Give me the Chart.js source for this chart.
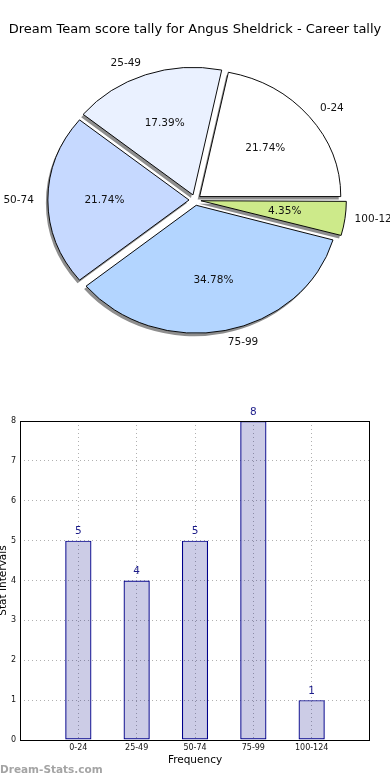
<!DOCTYPE html>
<html lang="en">
<head>
    <meta charset="UTF-8">
    <title>Dream Team score tally - Angus Sheldrick</title>
    <script src="https://cdn.jsdelivr.net/npm/chart.js"></script>
    <style>
        body { margin: 0; background: white; font-family: "DejaVu Sans", sans-serif; }
        #wrap { position: relative; width: 390px; height: 780px; overflow: hidden; }
        #pieBox { position: absolute; left: 0; top: 0; width: 390px; height: 390px; }
        #barBox { position: absolute; left: 0; top: 390px; width: 390px; height: 390px; }
        #mark { position: absolute; left: 0; top: 763px; font-size: 10.5px; font-weight: bold; color: #a4a4a4; }
    </style>
</head>
<body>
<div id="wrap">
    <div id="pieBox"><canvas id="pieChart" width="390" height="390"></canvas></div>
    <div id="barBox"><canvas id="barChart" width="390" height="390"></canvas></div>
    <div id="mark">Dream-Stats.com</div>
</div>
<script>
    const titleText = 'Dream Team score tally for Angus Sheldrick - Career tally';
    const categories = ['0-24', '25-49', '50-74', '75-99', '100-124'];
    const counts = [5, 4, 5, 8, 1];
    const pieColors = ['#ffffff', '#eaf1ff', '#c6d9ff', '#b3d5ff', '#cdea8a'];
    const yTicks = [0, 1, 2, 3, 4, 5, 6, 7, 8];

    const total = counts.reduce((s, v) => s + v, 0);
    const SQUASH = 0.9;   // pie is a little wider than tall
    const font = '"DejaVu Sans", sans-serif';

    // matplotlib draws slices counter-clockwise from 3 o'clock, chart.js goes clockwise
    const pieOrder = categories.map((c, i) => i).reverse();

    function squash(ctx, a) {
        ctx.translate(a.x, a.y);
        ctx.scale(1, SQUASH);
        ctx.translate(-a.x, -a.y);
    }

    const pieLook = {
        id: 'pieLook',
        beforeDatasetsDraw(chart) {
            const ctx = chart.ctx;
            const arcs = chart.getDatasetMeta(0).data;
            // shadow pass: same arcs, grey, shifted down-left
            ctx.save();
            ctx.translate(-2, 3);
            squash(ctx, arcs[0]);
            arcs.forEach(arc => {
                const real = arc.options;
                arc.options = Object.create(real, {
                    backgroundColor: { value: '#8e8e8e' },
                    borderWidth: { value: 0 }
                });
                arc.draw(ctx);
                arc.options = real;
            });
            ctx.restore();
            ctx.save();
            squash(ctx, arcs[0]);
        },
        afterDatasetsDraw(chart) {
            const ctx = chart.ctx;
            ctx.restore();
            ctx.save();
            ctx.font = '10.5px ' + font;
            ctx.fillStyle = '#111';
            ctx.textBaseline = 'middle';
            chart.getDatasetMeta(0).data.forEach((arc, k) => {
                const i = pieOrder[k];
                const mid = (arc.startAngle + arc.endAngle) / 2;
                const off = (arc.options.offset || 0) / 4;
                const R = arc.outerRadius;
                const pt = r => ({
                    x: arc.x + Math.cos(mid) * (r + off),
                    y: arc.y + Math.sin(mid) * (r + off) * SQUASH
                });
                const o = pt(R * 1.1);
                ctx.textAlign = Math.cos(mid) > 0 ? 'left' : 'right';
                ctx.fillText(categories[i], o.x, o.y);
                const p = pt(R * 0.6);
                ctx.textAlign = 'center';
                ctx.fillText((counts[i] / total * 100).toFixed(2) + '%', p.x, p.y);
            });
            ctx.font = '13px ' + font;
            ctx.fillStyle = '#000';
            ctx.textAlign = 'center';
            ctx.fillText(titleText, 195, 30);
            ctx.restore();
        }
    };

    new Chart(document.getElementById('pieChart'), {
        type: 'pie',
        data: {
            labels: pieOrder.map(i => categories[i]),
            datasets: [{
                data: pieOrder.map(i => counts[i]),
                backgroundColor: pieOrder.map(i => pieColors[i]),
                borderColor: '#000',
                borderWidth: 1,
                offset: 24,
                radius: 141,
                clip: false
            }]
        },
        options: {
            responsive: false,
            animation: false,
            rotation: 90,
            layout: { padding: { top: 10 } },
            plugins: { legend: { display: false }, tooltip: { enabled: false } }
        },
        plugins: [pieLook]
    });

    const barLook = {
        id: 'barLook',
        afterDatasetsDraw(chart) {
            const ctx = chart.ctx;
            ctx.save();
            ctx.font = '10.5px ' + font;
            ctx.fillStyle = '#1c1c8a';
            ctx.textAlign = 'center';
            ctx.textBaseline = 'middle';
            chart.getDatasetMeta(0).data.forEach((bar, i) => {
                ctx.fillText(String(counts[i]), bar.x, bar.y - 9);
            });
            ctx.restore();
        },
        afterDraw(chart) {
            const ctx = chart.ctx;
            const a = chart.chartArea;
            ctx.save();
            ctx.strokeStyle = '#000';
            ctx.lineWidth = 1;
            ctx.strokeRect(a.left + 0.5, a.top + 0.5, a.right - a.left - 1, a.bottom - a.top);
            ctx.font = '10.5px ' + font;
            ctx.fillStyle = '#000';
            ctx.textAlign = 'center';
            ctx.textBaseline = 'middle';
            ctx.fillText('Frequency', (a.left + a.right) / 2, a.bottom + 20);
            ctx.translate(3, (a.top + a.bottom) / 2);
            ctx.rotate(-Math.PI / 2);
            ctx.fillText('Stat Intervals', 0, 0);
            ctx.restore();
        }
    };

    new Chart(document.getElementById('barChart'), {
        type: 'bar',
        data: {
            datasets: [{
                data: counts.map((v, i) => ({ x: i + 1, y: v })),
                backgroundColor: 'rgba(0,0,128,0.2)',
                borderColor: '#00008b',
                borderWidth: 1.2,
                borderSkipped: false,
                barPercentage: 0.45,
                categoryPercentage: 1
            }]
        },
        options: {
            responsive: false,
            animation: false,
            layout: { padding: { top: 31, right: 20, left: 0, bottom: 0 } },
            plugins: { legend: { display: false }, tooltip: { enabled: false } },
            scales: {
                x: {
                    type: 'linear',
                    offset: false,
                    min: 0,
                    max: categories.length + 1,
                    z: 1,
                    afterFit(scale) { scale.height = 40; },
                    afterBuildTicks(scale) {
                        scale.ticks = categories.map((c, i) => ({ value: i + 1 }));
                    },
                    ticks: {
                        font: { family: font, size: 8 },
                        color: '#111',
                        padding: 3,
                        maxRotation: 0,
                        callback: v => categories[v - 1] || ''
                    },
                    grid: { color: '#b0b0b0', drawTicks: false, offset: false },
                    border: { display: false, dash: [1, 3] }
                },
                y: {
                    min: yTicks[0],
                    max: yTicks[yTicks.length - 1],
                    afterFit(scale) { scale.width = 20; },
                    afterBuildTicks(scale) {
                        scale.ticks = yTicks.map(v => ({ value: v }));
                    },
                    ticks: {
                        font: { family: font, size: 8 },
                        color: '#111',
                        padding: 4
                    },
                    grid: { color: '#b0b0b0', drawTicks: false },
                    border: { display: false, dash: [1, 3] }
                }
            }
        },
        plugins: [barLook]
    });
</script>
</body>
</html>
